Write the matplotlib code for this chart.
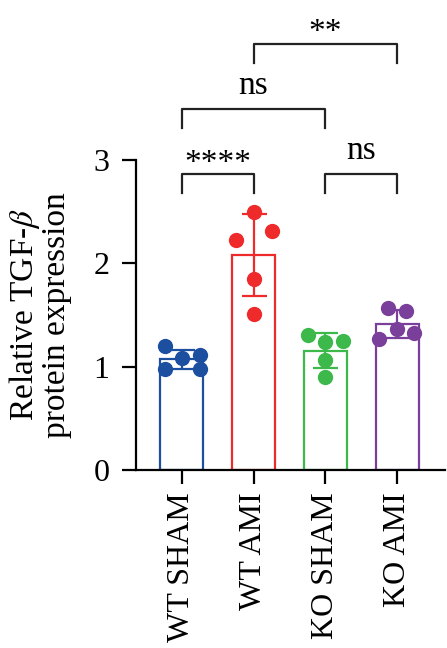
import numpy as np
import matplotlib
matplotlib.use("Agg")
import matplotlib.pyplot as plt

plt.rcParams['font.family'] = ['Liberation Serif', 'DejaVu Serif']
plt.rcParams['mathtext.fontset'] = 'stix'

# Data
groups = ["WT SHAM", "WT AMI", "KO SHAM", "KO AMI"]
wt_sham = [1.20, 1.08, 1.11, 0.98, 0.98]
wt_ami = [2.50, 2.31, 2.23, 1.85, 1.51]
ko_sham = [1.31, 1.24, 1.25, 1.06, 0.90]
ko_ami = [1.57, 1.54, 1.36, 1.33, 1.27]
# horizontal spread of the dots (scatter layout)
spread = [[-0.24, 0.0, 0.25, -0.24, 0.25],
          [0.0, 0.26, -0.24, 0.0, 0.0],
          [-0.24, 0.0, 0.25, 0.0, 0.0],
          [-0.13, 0.13, 0.0, 0.24, -0.25]]
colors = ["#1D4FA0", "#EE2A2A", "#3CB94A", "#7A3F9A"]

# significance brackets: (left, right, bracket top, label)
comparisons = [(0, 1, 2.86, "****"),
               (2, 3, 2.86, "ns"),
               (0, 2, 3.49, "ns"),
               (1, 3, 4.12, "**")]

values = [wt_sham, wt_ami, ko_sham, ko_ami]
means = [np.mean(v) for v in values]
sds = [np.std(v, ddof=1) for v in values]

fig = plt.figure(figsize=(4.47, 6.48), dpi=100)
ax = fig.add_axes([0.304, 0.2747, 0.692, 0.4784])

x = np.arange(len(groups))
lw = 1.6
ax.bar(x, means, width=0.6, color="white", edgecolor=colors, linewidth=lw, zorder=2)
for i in range(len(groups)):
    ax.errorbar(x[i], means[i], yerr=sds[i], color=colors[i], capsize=9,
                elinewidth=lw, capthick=lw, zorder=3)
    ax.plot(x[i] + np.array(spread[i]), values[i], 'o', color=colors[i],
            markersize=11, markeredgewidth=0, zorder=4, clip_on=False)

leg = 0.18
for a, b, top, lab in comparisons:
    ax.plot([a, a, b, b], [top - leg, top, top, top - leg], color="#222222",
            linewidth=1.6, clip_on=False)
    off = -0.04 if lab.startswith("*") else 0.08
    ax.text((a + b) / 2, top + off, lab, ha="center", va="bottom",
            fontsize=24, clip_on=False)

ax.set_xlim(-0.64, 3.67)
ax.set_ylim(0, 3)
ax.set_yticks([0, 1, 2, 3])
ax.set_xticks(x)
ax.set_xticklabels(groups, rotation=90, fontsize=23)
ax.tick_params(axis='y', labelsize=23, width=1.6, length=10, pad=9)
ax.tick_params(axis='x', width=1.6, length=10, pad=6)
for s in ["top", "right"]:
    ax.spines[s].set_visible(False)
for s in ["left", "bottom"]:
    ax.spines[s].set_linewidth(1.6)

ax.set_ylabel("Relative TGF-$\\mathit{\\beta}$\nprotein expression", fontsize=24,
              linespacing=1.0)
ax.yaxis.set_label_coords(-0.205, 0.5)

fig.savefig("out.png", dpi=100)
